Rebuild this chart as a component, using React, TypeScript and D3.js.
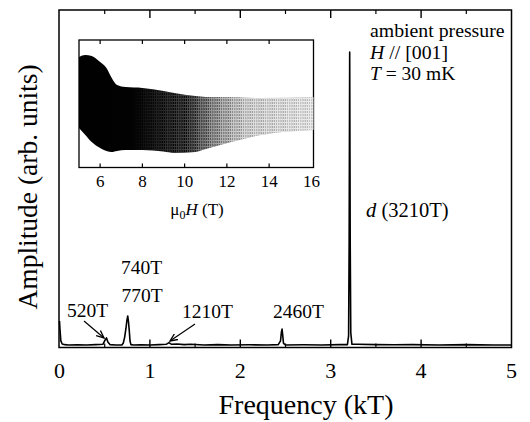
import React from 'react';
import * as d3 from 'd3';

// Main FFT spectrum (frequency in kT, amplitude in arb. units)
const specFreq = [0, 0.005, 0.015, 0.03, 0.06, 0.1, 0.2, 0.3, 0.4, 0.48, 0.505, 0.52, 0.535, 0.56, 0.62, 0.69, 0.705, 0.72, 0.735, 0.745, 0.755, 0.763, 0.772, 0.78, 0.79, 0.82, 0.9, 1.0, 1.1, 1.18, 1.21, 1.24, 1.3, 1.38, 1.45, 1.6, 1.75, 1.9, 2.1, 2.3, 2.42, 2.445, 2.455, 2.462, 2.468, 2.478, 2.5, 2.7, 2.9, 3.1, 3.185, 3.198, 3.204, 3.21, 3.216, 3.222, 3.235, 3.3, 3.5, 3.7, 3.9, 4.2, 4.5, 4.8, 5.0];
const specAmp = [7.4, 5.0, 1.5, 0.6, 0.4, 0.3, 0.35, 0.3, 0.4, 0.5, 1.8, 2.4, 1.2, 0.4, 0.3, 0.3, 0.8, 2.5, 5.2, 7.5, 8.9, 7.2, 4.5, 1.5, 0.4, 0.3, 0.35, 0.3, 0.4, 0.5, 1.0, 0.5, 0.6, 0.4, 0.5, 0.3, 0.4, 0.3, 0.35, 0.3, 0.4, 1.5, 4.2, 5.0, 3.5, 0.8, 0.3, 0.35, 0.3, 0.4, 0.4, 3.0, 30, 87.2, 30, 4.0, 0.5, 0.5, 0.4, 0.35, 0.4, 0.3, 0.4, 0.3, 0.3];

// Inset: envelope of the raw oscillation signal vs field (T)
const insetField = [5.0, 5.3, 5.6, 6.0, 6.3, 6.55, 6.8, 7.2, 8.0, 9.0, 9.5, 10.5, 11.0, 12.2, 13.6, 16.1];
const insetUpper = [86.7, 88.2, 87.5, 82.7, 78.0, 70.2, 64.7, 63.1, 62.4, 60.0, 58.4, 56.0, 55.3, 55.3, 54.5, 55.3];
const insetLower = [31.0, 25.5, 20.0, 15.3, 13.0, 12.2, 13.0, 13.7, 13.7, 12.5, 11.4, 12.2, 14.5, 20.0, 25.5, 29.4];

const mainTicks = [0, 1, 2, 3, 4, 5];
const mainMinorTicks = [0.5, 1.5, 2.5, 3.5, 4.5];
const insetTicks = [6, 8, 10, 12, 14, 16];

const serif = "'Liberation Serif', 'Times New Roman', 'DejaVu Serif', serif";

export default function App() {
  const x = d3.scaleLinear().domain([0, 5]).range([59.5, 511.5]);
  const y = d3.scaleLinear().domain([0, 100]).range([346, 9]);
  const top = 10, bottom = 347.5;

  const spec = specFreq.map((f, i) => [f, specAmp[i]] as [number, number]);
  const line = d3.line<[number, number]>().x(d => x(d[0])).y(d => y(d[1]));

  const ix = d3.scaleLinear().domain([5, 16.1]).range([79, 313.5]);
  const iy = d3.scaleLinear().domain([0, 100]).range([167.5, 40]);
  const env = insetField.map((h, i) => ({ h, u: insetUpper[i], l: insetLower[i] }));
  const area = d3.area<{ h: number; u: number; l: number }>()
    .x(d => ix(d.h)).y0(d => iy(d.l)).y1(d => iy(d.u)).curve(d3.curveMonotoneX);

  const gOff = (h: number) => ((h - 5) / 11.1 * 100).toFixed(1) + '%';

  return (
    <svg width={530} height={422} style={{ position: 'absolute', left: 0, top: 0, background: '#fff', fontFamily: serif }}>
      <defs>
        <linearGradient id="envGrad" x1="0" x2="1" y1="0" y2="0">
          <stop offset={gOff(5)} stopColor="#000" />
          <stop offset={gOff(10.2)} stopColor="#050505" />
          <stop offset={gOff(11.5)} stopColor="#555" />
          <stop offset={gOff(13)} stopColor="#9a9a9a" />
          <stop offset={gOff(16.1)} stopColor="#b5b5b5" />
        </linearGradient>
        <pattern id="stripes" width="2.2" height="3" patternUnits="userSpaceOnUse">
          <rect x="0" y="0" width="1.1" height="3" fill="#fff" />
          <rect x="1.1" y="2" width="1.1" height="1" fill="#fff" />
        </pattern>
        <linearGradient id="maskGrad" x1="0" x2="1" y1="0" y2="0">
          <stop offset={gOff(7.5)} stopColor="#000" />
          <stop offset={gOff(10)} stopColor="#444" />
          <stop offset={gOff(12.5)} stopColor="#aaa" />
          <stop offset={gOff(16.1)} stopColor="#ccc" />
        </linearGradient>
        <mask id="stripeMask" maskUnits="userSpaceOnUse" x="0" y="0" width="530" height="422">
          <rect x={ix(5)} y={40} width={ix(16.1) - ix(5)} height={127.5} fill="url(#maskGrad)" />
        </mask>
        <marker id="arrow" viewBox="0 0 10 10" refX="9" refY="5" markerWidth="7" markerHeight="7" orient="auto">
          <path d="M0,1 L9,5 L0,9" fill="none" stroke="#000" strokeWidth="1.6" />
        </marker>
      </defs>

      {/* main frame */}
      <rect x={x(0) - 0.5} y={top} width={x(5) - x(0) + 0.5} height={bottom - top} fill="none" stroke="#000" strokeWidth={1.5} />
      {mainTicks.slice(1, -1).map(t => (
        <g key={'mt' + t}>
          <line x1={x(t)} x2={x(t)} y1={top} y2={top + 8} stroke="#000" strokeWidth={1.4} />
          <line x1={x(t)} x2={x(t)} y1={bottom} y2={bottom - 8} stroke="#000" strokeWidth={1.4} />
        </g>
      ))}
      {mainMinorTicks.map(t => (
        <g key={'mn' + t}>
          <line x1={x(t)} x2={x(t)} y1={top} y2={top + 4} stroke="#000" strokeWidth={1.2} />
          <line x1={x(t)} x2={x(t)} y1={bottom} y2={bottom - 4} stroke="#000" strokeWidth={1.2} />
        </g>
      ))}
      {mainTicks.map(t => (
        <text key={'ml' + t} x={x(t)} y={378} fontSize={22} textAnchor="middle">{t}</text>
      ))}

      {/* spectrum */}
      <path d={line(spec) || ''} fill="none" stroke="#000" strokeWidth={1.6} strokeLinejoin="round" />

      {/* peak labels */}
      <text x={67} y={317} fontSize={19.5}>520T</text>
      <line x1={84} y1={321} x2={104} y2={338} stroke="#000" strokeWidth={1.2} markerEnd="url(#arrow)" />
      <text x={141.5} y={274} fontSize={19.5} textAnchor="middle">740T</text>
      <text x={142} y={302} fontSize={19.5} textAnchor="middle">770T</text>
      <text x={207.5} y={318} fontSize={19.5} textAnchor="middle">1210T</text>
      <line x1={195} y1={324} x2={170} y2={341} stroke="#000" strokeWidth={1.2} markerEnd="url(#arrow)" />
      <text x={298.5} y={318} fontSize={19.5} textAnchor="middle">2460T</text>
      <text x={366} y={217} fontSize={20.5}><tspan fontStyle="italic">d</tspan> (3210T)</text>

      {/* conditions */}
      <text x={370} y={37} fontSize={19.8}>ambient pressure</text>
      <text x={370} y={59} fontSize={19.8}><tspan fontStyle="italic">H</tspan> // [001]</text>
      <text x={370} y={80} fontSize={19.5}><tspan fontStyle="italic">T</tspan> = 30 mK</text>

      {/* axis labels */}
      <text x={306} y={414} fontSize={28} textAnchor="middle">Frequency (kT)</text>
      <text transform="translate(37,187) rotate(-90)" fontSize={27.5} textAnchor="middle">Amplitude (arb. units)</text>

      {/* inset */}
      <rect x={ix(5)} y={40} width={ix(16.1) - ix(5)} height={127.5} fill="#fff" stroke="#000" strokeWidth={1.3} />
      <path d={area(env) || ''} fill="url(#envGrad)" />
      <path d={area(env) || ''} fill="url(#stripes)" mask="url(#stripeMask)" />
      {insetTicks.slice(0, -1).map(t => (
        <g key={'it' + t}>
          <line x1={ix(t)} x2={ix(t)} y1={40} y2={44} stroke="#000" strokeWidth={1.2} />
          <line x1={ix(t)} x2={ix(t)} y1={167.5} y2={163.5} stroke="#000" strokeWidth={1.2} />
        </g>
      ))}
      {insetTicks.map(t => (
        <text key={'il' + t} x={ix(t)} y={187} fontSize={17} textAnchor="middle">{t}</text>
      ))}
      <text x={197} y={215} fontSize={17} textAnchor="middle">
        μ<tspan fontSize={12} dy={4}>0</tspan><tspan dy={-4} fontStyle="italic">H</tspan> (T)
      </text>
    </svg>
  );
}
